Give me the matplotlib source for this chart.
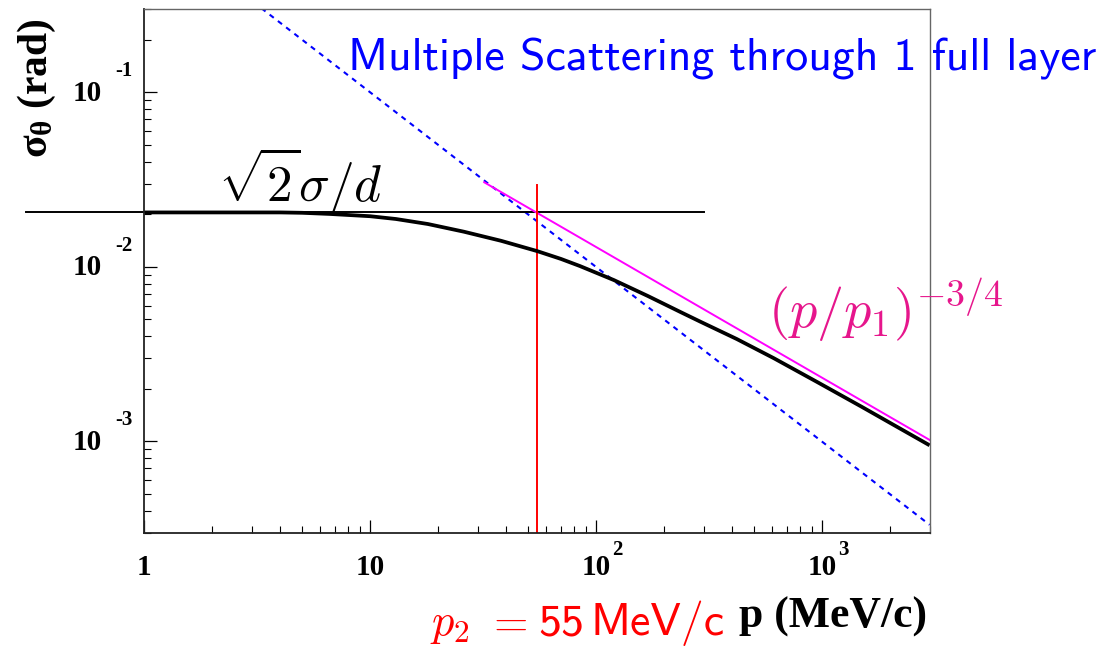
import numpy as np
import matplotlib
matplotlib.use("Agg")
import matplotlib.pyplot as plt

plt.rcParams['mathtext.fontset'] = 'cm'
plt.rcParams['mathtext.rm'] = 'Liberation Serif:bold'
plt.rcParams['mathtext.bf'] = 'Liberation Serif:bold'
plt.rcParams['mathtext.it'] = 'Liberation Serif:italic:bold'

# combined resolution curve
p_curve = [1, 2, 4, 5, 6.6, 10, 13, 18, 26, 38, 55, 70, 85, 120, 170, 236, 290, 420, 612,
           953, 1500, 3000]
sig_curve = [0.0205, 0.0205, 0.0205, 0.0204, 0.0201, 0.0195, 0.0188, 0.0176, 0.0159, 0.0141,
             0.0123, 0.0111, 0.0101, 0.0084, 0.0068, 0.00552, 0.00485, 0.00386, 0.00300,
             0.00219, 0.00158, 0.00095]

# multiple scattering through one full layer (dotted)
p_ms = [3.3, 3000]
sig_ms = [0.303, 3.33e-4]

# resolution limit sqrt(2) sigma / d
p_res = [0.3, 300]
sig_res = [0.0205, 0.0205]

# (p/p1)^-3/4 asymptote
p_asym = [32, 3000]
sig_asym = [0.0305, 0.00102]

# crossing momentum p2
p2 = 55
sig_p2 = [3e-4, 0.0294]

xticks = [1, 10, 100, 1000]
xtick_base = ['1', '10', '10', '10']
xtick_exp = ['', '', '2', '3']
yticks = [1e-3, 1e-2, 1e-1]
ytick_exp = ['-3', '-2', '-1']

W, H = 1099, 649
fig = plt.figure(figsize=(W / 100, H / 100), dpi=100)
ax = fig.add_axes([144.3 / W, 1 - 532.7 / H, (929.6 - 144.3) / W, (532.7 - 9) / H])
ax.set_xscale('log')
ax.set_yscale('log')
ax.set_xlim(1, 3000)
ax.set_ylim(3e-4, 0.3)

ax.plot(p_ms, sig_ms, color='#0000ff', lw=1.5, ls=(0, (2.5, 2.5)))
ax.plot(p_res, sig_res, color='black', lw=1.4, clip_on=False)
ax.plot(p_asym, sig_asym, color='#ff00ff', lw=1.4)
ax.plot([p2, p2], sig_p2, color='#ff0000', lw=1.4)
ax.plot(p_curve, sig_curve, color='black', lw=2.7, solid_capstyle='butt',
        solid_joinstyle='round')

# axes look (ROOT style)
for s in ['top', 'right']:
    ax.spines[s].set_color('#666666')
    ax.spines[s].set_linewidth(1.0)
for s in ['left', 'bottom']:
    ax.spines[s].set_color('#222222')
    ax.spines[s].set_linewidth(1.3)
ax.tick_params(which='both', direction='in', top=False, right=False,
               labelbottom=False, labelleft=False)
ax.tick_params(which='major', length=9.4, width=0.9)
ax.tick_params(which='minor', length=4.8, width=0.8)
ax.set_xticks(xticks)
ax.set_yticks(yticks)

tfont = dict(family='Liberation Serif', fontweight='bold')
for v, b, e in zip(xticks, xtick_base, xtick_exp):
    ax.annotate(b, xy=(v, 0), xycoords=('data', 'axes fraction'), xytext=(0, -35),
                textcoords='offset pixels', ha='center', va='center', fontsize=21, **tfont)
    if e:
        ax.annotate(e, xy=(v, 0), xycoords=('data', 'axes fraction'), xytext=(16, -17),
                    textcoords='offset pixels', ha='left', va='center', fontsize=15, **tfont)
for v, e in zip(yticks, ytick_exp):
    ax.annotate('10', xy=(0, v), xycoords=('axes fraction', 'data'), xytext=(-42, -1),
                textcoords='offset pixels', ha='right', va='center', fontsize=21, **tfont)
    ax.annotate(e, xy=(0, v), xycoords=('axes fraction', 'data'), xytext=(-29, 21),
                textcoords='offset pixels', ha='left', va='center', fontsize=15, **tfont)

# labels
fig.text(37 / W, 1 - 88 / H, r'$\mathbf{\sigma_{\theta}}$ (rad)', rotation=90,
         ha='center', va='center', fontsize=30, math_fontfamily='custom', **tfont)
fig.text(927 / W, 1 - 628 / H, 'p (MeV/c)', ha='right', va='baseline', fontsize=31.5, **tfont)
red = dict(va='baseline', color='#ff0000')
fig.text(430 / W, 1 - 635 / H, r'$p_2$', ha='left', fontsize=32, **red)
fig.text(486 / W, 1 - 635 / H, r'$=$', ha='left', fontsize=32, **red)
fig.text(584 / W, 1 - 635 / H, '55', ha='right', fontsize=33, family='cmss10', **red)
fig.text(725 / W, 1 - 635 / H, 'MeV/c', ha='right', fontsize=33, family='cmss10', **red)

ax.text(2.12, 0.0236, r'$\sqrt{2}\sigma/d$', ha='left', va='baseline', fontsize=37)
ax.text(580, 0.00446, r'$(p/p_1)^{-3/4}$', ha='left', va='baseline', fontsize=39,
        color='#e6168c')
ax.text(7.99, 0.134, 'Multiple Scattering through 1 full layer',
        ha='left', va='baseline', fontsize=33, color='#0000ff', family='cmss10')

fig.savefig('out.png', dpi=100)
